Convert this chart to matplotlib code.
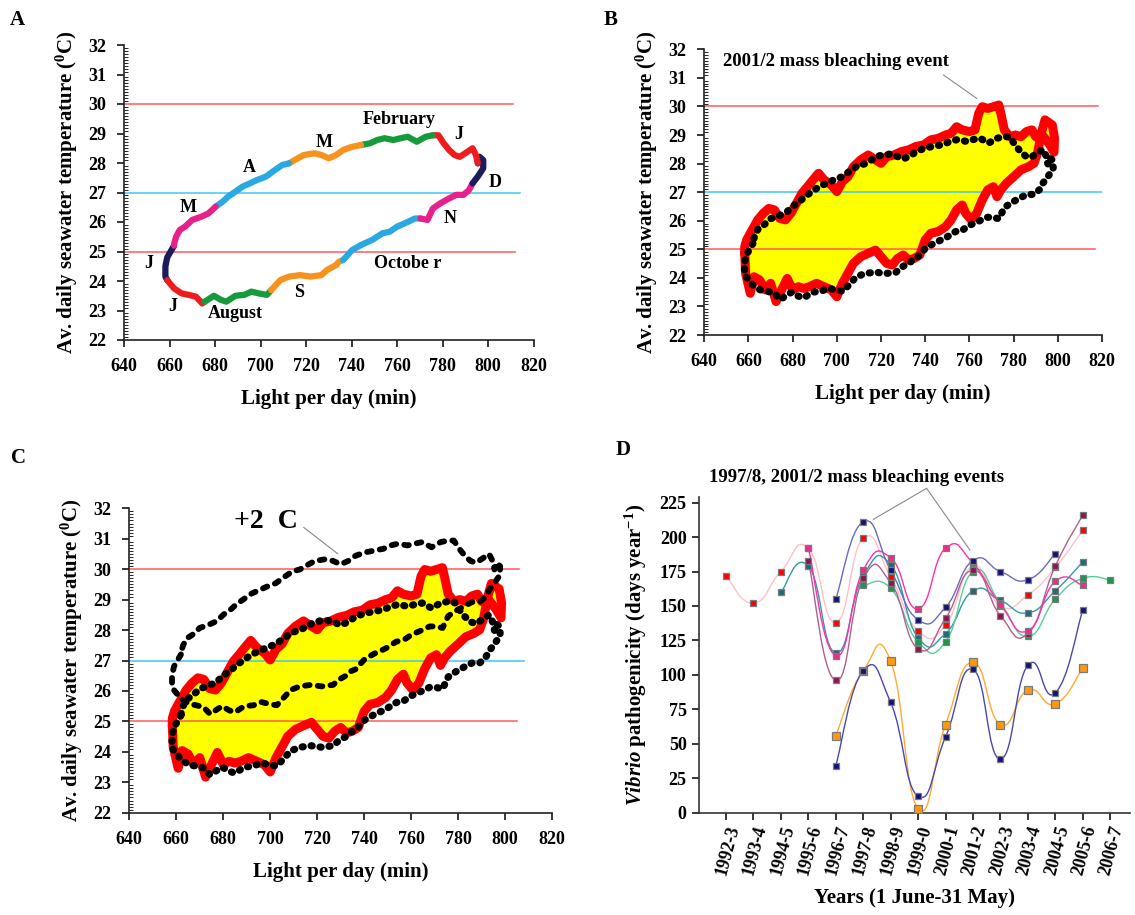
import matplotlib
matplotlib.use("Agg")
import matplotlib.pyplot as plt
from matplotlib.path import Path
from matplotlib.patches import PathPatch
from matplotlib.ticker import MultipleLocator

plt.rcParams['font.family'] = ['Liberation Serif', 'DejaVu Serif']
plt.rcParams['font.weight'] = 'bold'
plt.rcParams['mathtext.fontset'] = 'custom'
plt.rcParams['mathtext.rm'] = 'Liberation Serif:bold'
plt.rcParams['mathtext.bf'] = 'Liberation Serif:bold'
plt.rcParams['mathtext.it'] = 'Liberation Serif:italic:bold'

# ---- mean annual loop (light per day, temperature), month by month ----
month_names = ['Jun', 'Jul', 'Aug', 'Sep', 'Oct', 'Nov', 'Dec', 'Jan', 'Feb', 'Mar', 'Apr', 'May']
jun_light = [662.0, 660.5, 659.0, 658.2, 658.2]
jun_temp = [25.20, 25.00, 24.80, 24.50, 24.15]
jul_light = [659.0, 662.0, 665.3, 668.4, 671.6, 674.4]
jul_temp = [24.03, 23.75, 23.58, 23.53, 23.47, 23.24]
aug_light = [675.5, 679.5, 682.6, 685.0, 689.0, 692.9, 696.0, 699.2, 702.8]
aug_temp = [23.30, 23.50, 23.36, 23.30, 23.50, 23.53, 23.64, 23.58, 23.53]
sep_light = [704.7, 708.7, 712.6, 717.4, 722.0, 726.8, 729.2, 733.2, 734.4]
sep_temp = [23.69, 24.03, 24.15, 24.20, 24.15, 24.20, 24.37, 24.54, 24.65]
oct_light = [736.3, 740.3, 744.2, 749.0, 753.7, 756.8, 760.0, 764.7, 767.9]
oct_temp = [24.71, 25.05, 25.22, 25.39, 25.62, 25.67, 25.84, 26.00, 26.12]
nov_light = [770.3, 773.4, 775.8, 779.0, 782.9, 786.0, 789.2, 791.6]
nov_temp = [26.12, 26.07, 26.46, 26.63, 26.80, 26.92, 26.92, 27.08]
dec_light = [793.2, 795.5, 797.9, 797.9, 796.3]
dec_temp = [27.31, 27.54, 27.82, 28.10, 28.21]
jan_light = [795.5, 794.7, 793.2, 790.0, 787.6, 785.3, 782.9, 780.5, 778.2]
jan_temp = [27.99, 28.27, 28.50, 28.33, 28.21, 28.27, 28.44, 28.67, 28.94]
feb_light = [775.8, 772.6, 768.7, 764.7, 761.6, 758.4, 754.5, 751.3, 748.2]
feb_temp = [28.94, 28.89, 28.72, 28.89, 28.84, 28.78, 28.84, 28.78, 28.67]
mar_light = [744.2, 740.3, 736.3, 733.2, 730.0, 726.8, 723.7, 719.0, 715.0]
mar_temp = [28.61, 28.55, 28.44, 28.27, 28.16, 28.27, 28.33, 28.27, 28.10]
apr_light = [712.6, 709.5, 706.3, 702.4, 698.4, 695.3, 692.1, 689.0, 685.8, 683.4]
apr_temp = [27.99, 27.93, 27.76, 27.54, 27.42, 27.31, 27.20, 27.03, 26.86, 26.69]
may_light = [680.3, 677.1, 674.0, 670.0, 666.8, 664.5, 662.9, 662.1]
may_temp = [26.52, 26.29, 26.18, 26.07, 25.84, 25.73, 25.50, 25.28]

month_colors = ['#1c1c5c', '#ee1c1c', '#169a3c', '#f7921e', '#2aa8e2', '#e8208c',
                '#1c1c5c', '#ee1c1c', '#169a3c', '#f7921e', '#2aa8e2', '#e8208c']

# ---- 2001/2 loop (mass bleaching year) ----
bleach_light_jun_nov = [658.3, 658.7, 660.8, 662.5, 665.0, 667.5, 670.0, 672.5, 675.0, 677.5,
                        680.0, 682.5, 685.0, 687.5, 690.8, 694.2, 697.5, 700.0, 702.5, 705.0,
                        707.5, 710.8, 714.2, 717.5, 720.0, 722.5, 725.0, 727.5, 730.0, 732.5,
                        735.0, 737.5, 740.0, 742.5, 745.8, 749.2, 751.7, 754.2, 756.7, 758.3,
                        760.8, 763.3, 765.8, 768.3, 770.8, 772.5, 774.2, 776.7, 780.0, 783.3,
                        786.7, 789.2, 790.8, 792.5]
bleach_temp_jun_nov = [24.86, 24.16, 23.46, 24.04, 23.93, 23.58, 23.81, 23.17, 23.58, 23.98,
                       23.58, 23.69, 23.63, 23.69, 23.81, 23.69, 23.58, 23.34, 23.81, 24.16,
                       24.51, 24.74, 24.86, 24.97, 24.74, 24.51, 24.45, 24.68, 24.80, 24.62,
                       24.68, 24.80, 25.33, 25.56, 25.62, 25.79, 26.03, 26.38, 26.55, 26.26,
                       26.03, 26.26, 26.73, 27.08, 27.19, 26.84, 27.08, 27.31, 27.54, 27.78,
                       27.89, 28.01, 28.36, 29.06]
bleach_light_dec_may = [794.2, 797.5, 798.5, 798.3, 796.0, 793.0, 790.0, 788.3, 785.8, 783.3,
                        780.8, 778.3, 775.8, 774.2, 773.3, 770.8, 768.3, 765.8, 764.2, 762.5,
                        760.0, 756.7, 754.2, 751.7, 749.2, 745.8, 742.5, 739.2, 735.8, 732.5,
                        729.2, 725.8, 722.5, 720.0, 717.5, 714.2, 710.8, 707.5, 705.0, 702.5,
                        700.0, 697.5, 694.2, 691.7, 689.2, 686.7, 684.2, 681.7, 679.2, 676.7,
                        674.2, 671.7, 669.2, 666.7, 664.2, 662.5, 660.8, 659.2, 658.3]
bleach_temp_dec_may = [29.53, 29.35, 28.90, 28.40, 28.70, 29.00, 28.94, 29.18, 29.12, 28.94,
                       29.00, 28.94, 29.18, 29.76, 30.05, 29.99, 29.93, 29.99, 29.76, 29.18,
                       29.12, 29.18, 29.29, 29.06, 29.00, 28.88, 28.83, 28.65, 28.60, 28.48,
                       28.42, 28.30, 28.24, 28.01, 28.13, 28.30, 28.13, 27.89, 27.54, 27.37,
                       27.02, 27.25, 27.43, 27.66, 27.43, 27.19, 26.96, 26.61, 26.26, 26.03,
                       26.08, 26.38, 26.43, 26.26, 26.03, 25.79, 25.56, 25.33, 25.09]

warming = 2.0
thresholds = [30, 27, 25]
threshold_colors = ['#ff5a5a', '#3cc8f0', '#ff5a5a']

# ---- panel D : Vibrio pathogenicity ----
years = ['1992-3', '1993-4', '1994-5', '1995-6', '1996-7', '1997-8', '1998-9', '1999-0',
         '2000-1', '2001-2', '2002-3', '2003-4', '2004-5', '2005-6', '2006-7']
navy_upper = [None, None, None, None, 155, 211, 176, 140, 149, 183, 175, 169, 188, None, None]
red_series = [172, 152, 175, 192, 138, 199, 171, 132, 136, 179, 150, 158, 178, 205, None]
pink_series = [None, None, None, 192, 114, 176, 185, 148, 192, 181, 151, 132, 168, 165, None]
maroon_series = [None, None, None, 183, 96, 170, 167, 119, 141, 176, 143, 130, 179, 216, None]
teal_series = [None, None, 160, 179, 116, 172, 180, 127, 130, 161, 154, 145, 161, 182, None]
green_series = [None, None, None, None, None, 165, 163, 124, 124, 175, 152, 128, 155, 170, 169]
orange_series = [None, None, None, None, 56, 103, 110, 3, 64, 109, 64, 89, 79, 105, None]
navy_lower = [None, None, None, None, 34, 103, 80, 12, 55, 104, 39, 107, 87, 147, None]

W, H = 1135, 915
fig = plt.figure(figsize=(W / 100, H / 100), dpi=100)


def fx(px):
    return px / W


def fy(py):
    return 1 - py / H


def style_loop_axes(ax):
    ax.set_xlim(640, 820)
    ax.set_ylim(22, 32)
    ax.spines['top'].set_visible(False)
    ax.spines['right'].set_visible(False)
    for s in ('left', 'bottom'):
        ax.spines[s].set_linewidth(1.2)
        ax.spines[s].set_color('#222222')
    ax.xaxis.set_major_locator(MultipleLocator(20))
    ax.yaxis.set_major_locator(MultipleLocator(1))
    ax.yaxis.set_minor_locator(MultipleLocator(0.1))
    ax.tick_params(axis='both', which='major', direction='out', length=5, width=1.1,
                   labelsize=13, pad=8)
    ax.tick_params(axis='y', which='minor', direction='in', length=3, width=0.6)
    ax.set_xlabel('Light per day (min)', fontsize=15, fontweight='bold', labelpad=10)
    ax.set_ylabel(r'Av. daily seawater temperature ($^{\mathbf{0}}$C)', fontsize=15,
                  fontweight='bold', labelpad=6)
    for lab in ax.get_xticklabels() + ax.get_yticklabels():
        lab.set_fontweight('bold')


def threshold_lines(ax, ends):
    for t, c, e in zip(thresholds, threshold_colors, ends):
        ax.plot([640, e], [t, t], color=c, lw=1.1, zorder=2)


all_light = [jun_light, jul_light, aug_light, sep_light, oct_light, nov_light,
             dec_light, jan_light, feb_light, mar_light, apr_light, may_light]
all_temp = [jun_temp, jul_temp, aug_temp, sep_temp, oct_temp, nov_temp,
            dec_temp, jan_temp, feb_temp, mar_temp, apr_temp, may_temp]
mean_light = [v for m in all_light for v in m] + [jun_light[0]]
mean_temp = [v for m in all_temp for v in m] + [jun_temp[0]]
bleach_light = bleach_light_jun_nov + bleach_light_dec_may + [bleach_light_jun_nov[0]]
bleach_temp = bleach_temp_jun_nov + bleach_temp_dec_may + [bleach_temp_jun_nov[0]]

# ---------------- A ----------------
axA = fig.add_axes([fx(124), fy(340), fx(533.5 - 124), (340 - 45) / H])
style_loop_axes(axA)
threshold_lines(axA, [811, 814, 812])
for i in range(12):
    nxt = (i + 1) % 12
    xs = all_light[i] + [all_light[nxt][0]]
    ys = all_temp[i] + [all_temp[nxt][0]]
    axA.plot(xs, ys, color=month_colors[i], lw=4.5, solid_capstyle='round',
             solid_joinstyle='round', zorder=3)
labelsA = [('February', 760.8, 29.48), ('J', 787.3, 28.95), ('M', 728.1, 28.69),
           ('A', 695.3, 27.84), ('M', 668.4, 26.49), ('D', 803.1, 27.33),
           ('N', 783.4, 26.12), ('J', 651.0, 24.60), ('Octobe r', 764.7, 24.60),
           ('S', 717.0, 23.60), ('J', 661.3, 23.15), ('August', 689.0, 22.90)]
for txt, x, y in labelsA:
    axA.text(x, y, txt, ha='center', va='center', fontsize=13, fontweight='bold')

# ---------------- B and C ----------------
def bleaching_panel(ax):
    ax.fill(bleach_light, bleach_temp, color='#ffff00', zorder=1, lw=0)
    ax.plot(bleach_light, bleach_temp, color='#ff0000', lw=6.5, solid_joinstyle='round',
            solid_capstyle='round', zorder=3)
    ax.plot(mean_light, mean_temp, color='black', lw=5.2, linestyle=(0, (0.15, 1.1)),
            dash_capstyle='round', zorder=4)


axB = fig.add_axes([fx(704.3), fy(335), fx(1102 - 704.3), (335 - 49.3) / H])
style_loop_axes(axB)
threshold_lines(axB, [818, 820, 817])
bleaching_panel(axB)
axB.text(699.8, 31.57, '2001/2 mass bleaching event', ha='center', va='center',
         fontsize=13.5, fontweight='bold')
axB.plot([748.3, 763.3], [31.1, 30.28], color='#888888', lw=0.8, zorder=5)

axC = fig.add_axes([fx(129.3), fy(812.7), fx(552 - 129.3), (812.7 - 508.3) / H])
style_loop_axes(axC)
threshold_lines(axC, [806, 808, 805])
bleaching_panel(axC)
warm_temp = [t + warming for t in mean_temp]
axC.plot(mean_light, warm_temp, color='black', lw=4.2, linestyle=(0, (0.8, 1.4)),
         dash_capstyle='round', zorder=5, clip_on=False)
axC.text(698.3, 31.56, '+2  C', ha='center', va='center', fontsize=20, fontweight='bold')
axC.plot([714.3, 728.7], [31.37, 30.51], color='#888888', lw=0.8, zorder=5)

# ---------------- D ----------------
def smooth_path(xs, ys, k=0.25):
    pts = list(zip(xs, ys))
    verts = [pts[0]]
    codes = [Path.MOVETO]
    for i in range(len(pts) - 1):
        p0 = pts[i - 1] if i > 0 else pts[i]
        p1 = pts[i]
        p2 = pts[i + 1]
        p3 = pts[i + 2] if i + 2 < len(pts) else pts[i + 1]
        c1 = (p1[0] + (p2[0] - p0[0]) * k, p1[1] + (p2[1] - p0[1]) * k)
        c2 = (p2[0] - (p3[0] - p1[0]) * k, p2[1] - (p3[1] - p1[1]) * k)
        verts += [c1, c2, p2]
        codes += [Path.CURVE4] * 3
    return Path(verts, codes)


axD = fig.add_axes([fx(698.5), fy(812.7), fx(1130 - 698.5), 229 * 1.378 / H])
axD.set_xlim(-1, 14.72)
axD.set_ylim(0, 229)
for s in ('top', 'right'):
    axD.spines[s].set_visible(False)
for s in ('left', 'bottom'):
    axD.spines[s].set_linewidth(1.2)
    axD.spines[s].set_color('#333333')

seriesD = [
    (red_series, '#ffc0c8', '#ff0000', 4.2, 1.0),
    (teal_series, '#2f9aa8', '#1a6c7c', 4.2, 1.0),
    (green_series, '#55cf99', '#179a4e', 4.2, 1.0),
    (maroon_series, '#b0608c', '#8e1450', 4.2, 1.0),
    (pink_series, '#ff30aa', '#ee2a8a', 4.2, 1.0),
    (navy_upper, '#6a6ac0', '#12127a', 4.2, 1.0),
    (orange_series, '#ffaa33', '#ff9a10', 6.0, 1.0),
    (navy_lower, '#4848b0', '#12127a', 4.2, 1.0),
]
for vals, lc, mc, ms, lw in seriesD:
    idx = [i for i, v in enumerate(vals) if v is not None]
    xs = idx
    ys = [vals[i] for i in idx]
    patch = PathPatch(smooth_path(xs, ys), facecolor='none', edgecolor=lc, lw=lw, zorder=3)
    axD.add_patch(patch)
    axD.plot(xs, ys, linestyle='none', marker='s', markersize=ms, markerfacecolor=mc,
             markeredgecolor='#7a7a7a', markeredgewidth=0.9, zorder=4)

axD.set_xticks(range(len(years)))
axD.set_xticklabels(years, rotation=75, ha='right', va='top', rotation_mode='anchor',
                    fontsize=12, fontweight='bold')
axD.yaxis.set_major_locator(MultipleLocator(25))
axD.tick_params(axis='both', direction='out', length=5, width=1.1, labelsize=13)
axD.tick_params(axis='x', pad=3)
for lab in axD.get_yticklabels():
    lab.set_fontweight('bold')
axD.set_ylabel(r'$\mathit{Vibrio}$ pathogenicity (days year$^{\mathbf{-1}}$)',
               fontsize=15, fontweight='bold', labelpad=8)
axD.set_xlabel('Years (1 June-31 May)', fontsize=15, fontweight='bold', labelpad=8)
axD.text(4.77, 242.9, '1997/8, 2001/2 mass bleaching events', ha='center', va='center',
         fontsize=13.5, fontweight='bold', clip_on=False)
axD.plot([5.37, 7.31, 8.89], [212.9, 235.4, 190.5], color='#888888', lw=0.8,
         clip_on=False, zorder=5)

# panel letters
for letter, px, py in [('A', 17, 20), ('B', 611, 20), ('C', 18, 458), ('D', 623, 450)]:
    fig.text(fx(px), fy(py), letter, ha='center', va='center', fontsize=15,
             fontweight='bold')

fig.savefig('out.png', dpi=100)
